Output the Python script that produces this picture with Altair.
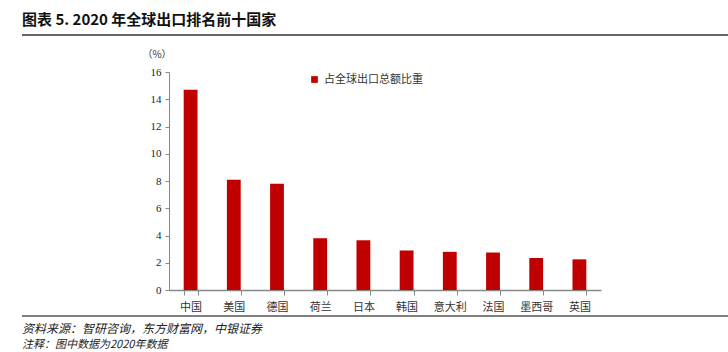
import altair as alt
import pandas as pd

countries = ["中国", "美国", "德国", "荷兰", "日本", "韩国", "意大利", "法国", "墨西哥", "英国"]
shares = [14.7, 8.1, 7.8, 3.8, 3.65, 2.9, 2.8, 2.75, 2.35, 2.25]
series_name = "占全球出口总额比重"
y_ticks = [0, 2, 4, 6, 8, 10, 12, 14, 16]

title_text = "图表 5. 2020 年全球出口排名前十国家"
source_text = "资料来源：智研咨询，东方财富网，中银证券"
note_text = "注释：图中数据为2020年数据"
unit_text = "（%）"

CJK = "Noto Sans CJK SC"
SERIF = "Liberation Serif"
RED = "#C00000"

df = pd.DataFrame({"country": countries, "share": shares, "series": [series_name] * len(countries)})

bars = alt.Chart(df).mark_bar(color=RED).encode(
    x=alt.X("country:N", sort=countries,
            scale=alt.Scale(paddingInner=0.68, paddingOuter=0.34),
            axis=alt.Axis(title=None, labelAngle=0, labelFont=CJK, labelFontSize=11,
                          labelColor="#333", labelPadding=6, tickBand="extent",
                          tickSize=5, tickColor="#888", domainColor="#888",
                          domainWidth=1.5, grid=False)),
    y=alt.Y("share:Q", scale=alt.Scale(domain=[0, 16], nice=False),
            axis=alt.Axis(title=None, values=y_ticks, labelFont=SERIF, labelFontSize=11,
                          labelColor="#222", tickSize=4, tickColor="#888",
                          domainColor="#888", grid=False, labelPadding=4)),
    color=alt.Color("series:N", scale=alt.Scale(range=[RED]),
                    legend=alt.Legend(title=None, orient="none", legendX=140, legendY=2,
                                      symbolType="square", symbolSize=45,
                                      labelFont=CJK, labelFontSize=11, labelColor="#333")),
)

one = pd.DataFrame({"k": [0]})

title = alt.Chart(one).mark_text(text=title_text, font=CJK, fontSize=15, fontWeight="bold",
                                 align="left", baseline="middle", color="#111").encode(
    x=alt.value(-147), y=alt.value(-52))

top_line = alt.Chart(one).mark_rule(color="#333", strokeWidth=1.5).encode(
    x=alt.value(-147), x2=alt.value(559), y=alt.value(-37))

unit = alt.Chart(one).mark_text(text=unit_text, font=CJK, fontSize=10,
                                align="center", baseline="middle", color="#333").encode(
    x=alt.value(-12), y=alt.value(-17))

bottom_line = alt.Chart(one).mark_rule(color="#808080", strokeWidth=2).encode(
    x=alt.value(-147), x2=alt.value(559), y=alt.value(244))

source = alt.Chart(one).mark_text(text=source_text, font=CJK, fontSize=12, fontStyle="italic",
                                  align="left", baseline="middle", color="#222").encode(
    x=alt.value(-147), y=alt.value(257))

note = alt.Chart(one).mark_text(text=note_text, font=CJK, fontSize=11, fontStyle="italic",
                                align="left", baseline="middle", color="#222").encode(
    x=alt.value(-147), y=alt.value(273))

chart = alt.layer(bars, title, top_line, unit, bottom_line, source, note).properties(
    width=432, height=218,
    background="white",
    autosize=alt.AutoSizeParams(type="none"),
    padding={"left": 169, "top": 72, "right": 127, "bottom": 62},
).configure_view(strokeWidth=0, stroke="transparent")

chart.save("out.html", embed_options={"renderer": "svg", "actions": False})
